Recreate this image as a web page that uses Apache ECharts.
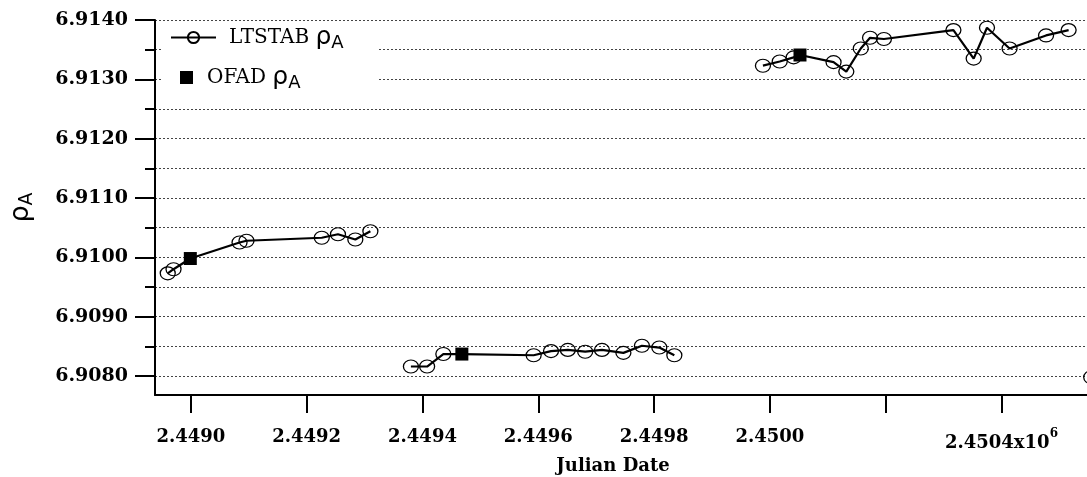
<!DOCTYPE html>
<html><head><meta charset="utf-8">
<script src="https://cdn.jsdelivr.net/npm/echarts@6/dist/echarts.min.js"></script>
<style>html,body{margin:0;padding:0;background:#fff}#c{width:1087px;height:477px}</style>
</head><body><div id="c"></div>
<script>
// LTSTAB rho_A, in separate observing runs (Julian Date, value)
const seg1JD  = [2448960, 2448970, 2449084, 2449096, 2449226, 2449254, 2449284, 2449310];
const seg1Rho = [6.90973, 6.90980, 6.91025, 6.91028, 6.91033, 6.91039, 6.91030, 6.91044];
const seg2JD  = [2449380, 2449408, 2449436, 2449592, 2449622, 2449651, 2449681, 2449710, 2449747, 2449779, 2449809, 2449835];
const seg2Rho = [6.90816, 6.90816, 6.90837, 6.90835, 6.90842, 6.90844, 6.90841, 6.90844, 6.90839, 6.90851, 6.90848, 6.90835];
const seg3JD  = [2449988, 2450017, 2450041, 2450110, 2450132, 2450157, 2450173, 2450197, 2450317, 2450352, 2450375, 2450414, 2450477, 2450516];
const seg3Rho = [6.91323, 6.91330, 6.91337, 6.91329, 6.91313, 6.91352, 6.91370, 6.91368, 6.91383, 6.91335, 6.91387, 6.91352, 6.91374, 6.91383];
const seg4JD  = [2450555];
const seg4Rho = [6.90798];
// OFAD rho_A
const ofadJD  = [2448999, 2449468, 2450052];
const ofadRho = [6.90998, 6.90837, 6.91341];
// axis ticks
const xTicks = [2449000, 2449200, 2449400, 2449600, 2449800, 2450000, 2450200, 2450400];
const yMajor = [6.9080, 6.9090, 6.9100, 6.9110, 6.9120, 6.9130, 6.9140];
const yAll   = [6.9080, 6.9085, 6.9090, 6.9095, 6.9100, 6.9105, 6.9110, 6.9115, 6.9120, 6.9125, 6.9130, 6.9135, 6.9140];

const SERIF = '"DejaVu Serif", "Liberation Serif", serif';
const SANS = '"DejaVu Sans", "Noto Sans", sans-serif';

function buildSeg(jd, rho) {
  const pts = jd.map((x, i) => ({ value: [x, rho[i]] }));
  if (jd.length > 1) {
    const lo = Math.min(...jd), hi = Math.max(...jd);
    ofadJD.forEach((x, i) => {
      if (x > lo && x < hi) pts.push({ value: [x, ofadRho[i]], symbol: 'none' });
    });
  }
  pts.sort((a, b) => a.value[0] - b.value[0]);
  return pts;
}
function lineSeries(jd, rho) {
  return {
    name: 'LTSTAB', type: 'line', data: buildSeg(jd, rho),
    symbol: 'circle', symbolSize: [15, 13], showSymbol: true,
    itemStyle: { color: 'rgba(0,0,0,0)', borderColor: '#000', borderWidth: 1.2 },
    lineStyle: { color: '#000', width: 2.2 },
    z: 2, animation: false
  };
}

function legendRich(padLeft) {
  return {
    t: { fontFamily: SERIF, fontSize: 20, color: '#000', lineHeight: 30, verticalAlign: 'middle', padding: [0, 0, 0, padLeft] },
    r: { fontFamily: SANS, fontSize: 25, color: '#000', lineHeight: 30, verticalAlign: 'middle' },
    s: { fontFamily: SANS, fontSize: 18, color: '#000', lineHeight: 30, verticalAlign: 'bottom' }
  };
}

const chart = echarts.init(document.getElementById('c'), null, { renderer: 'canvas' });
chart.setOption({
  animation: false,
  backgroundColor: '#fff',
  grid: { left: 155, top: 20, bottom: 82, right: -10, containLabel: false, outerBoundsMode: 'none' },
  graphic: [{ type: 'rect', left: 161, top: 24, shape: { width: 216, height: 76 }, style: { fill: '#fff' }, z: 1 }],
  legend: [
    { data: ['LTSTAB'], left: 170, top: 25, padding: 0, itemWidth: 45, itemHeight: 14,
      formatter: n => '{t|' + n + ' }{r|ρ}{s|A}', textStyle: { rich: legendRich(8) } },
    { data: [{ name: 'OFAD', icon: 'rect', itemStyle: { color: '#000', opacity: 1 } }], left: 180, top: 65, padding: 0, itemWidth: 13, itemHeight: 13,
      formatter: n => '{t|' + n + ' }{r|ρ}{s|A}', textStyle: { rich: legendRich(9) } }
  ],
  xAxis: {
    type: 'value', min: 2448938, max: 2450565,
    name: 'Julian Date', nameLocation: 'middle', nameGap: 54,
    nameTextStyle: { fontFamily: SERIF, fontWeight: 'bold', fontSize: 18, color: '#000', padding: [0, 26, 0, 0] },
    axisLine: { show: true, onZero: false, lineStyle: { color: '#000', width: 2 } },
    axisTick: { show: true, customValues: xTicks, length: 18, inside: false, lineStyle: { color: '#000', width: 2 } },
    axisLabel: {
      customValues: xTicks, margin: 33,
      fontFamily: SERIF, fontWeight: 'bold', fontSize: 18, color: '#000',
      formatter: v => {
        if (v === 2450200) return '';
        if (v === 2450400) return '{n|2.4504x10}{sup|6}';
        return (v / 1e6).toFixed(4);
      },
      rich: {
        n: { fontFamily: SERIF, fontWeight: 'bold', fontSize: 18, color: '#000', lineHeight: 24, verticalAlign: 'bottom' },
        sup: { fontFamily: SERIF, fontWeight: 'bold', fontSize: 12, color: '#000', lineHeight: 24, verticalAlign: 'top' }
      }
    },
    splitLine: { show: false }
  },
  yAxis: [
    {
      type: 'value', min: 6.90768, max: 6.9140, position: 'left',
      name: '{r|ρ}{s|A}', nameLocation: 'middle', nameGap: 118, nameRotate: 90,
      nameTextStyle: { rich: {
        r: { fontFamily: SANS, fontSize: 27, color: '#000', lineHeight: 32, verticalAlign: 'middle' },
        s: { fontFamily: SANS, fontSize: 19, color: '#000', lineHeight: 32, verticalAlign: 'bottom' }
      } },
      axisLine: { show: true, lineStyle: { color: '#000', width: 2 } },
      axisTick: { show: true, customValues: yMajor, length: 20, lineStyle: { color: '#000', width: 2 } },
      axisLabel: { customValues: yMajor, margin: 27, fontFamily: SERIF, fontWeight: 'bold', fontSize: 19, color: '#000',
        formatter: v => v.toFixed(4) },
      splitLine: { show: false }
    },
    {
      type: 'value', min: 6.90768, max: 6.9140, position: 'left',
      axisLine: { show: false },
      axisTick: { show: true, customValues: yAll, length: 10, lineStyle: { color: '#000', width: 2 } },
      axisLabel: { show: false },
      splitLine: { show: true, lineStyle: { color: '#444', width: 1, type: [2, 2] } }
    }
  ],
  series: [
    lineSeries(seg1JD, seg1Rho),
    lineSeries(seg2JD, seg2Rho),
    lineSeries(seg3JD, seg3Rho),
    lineSeries(seg4JD, seg4Rho),
    {
      name: 'OFAD', type: 'scatter', data: ofadJD.map((x, i) => [x, ofadRho[i]]),
      symbol: 'rect', symbolSize: 13, itemStyle: { color: '#000', opacity: 1 }, z: 3
    }
  ]
});
</script></body></html>
